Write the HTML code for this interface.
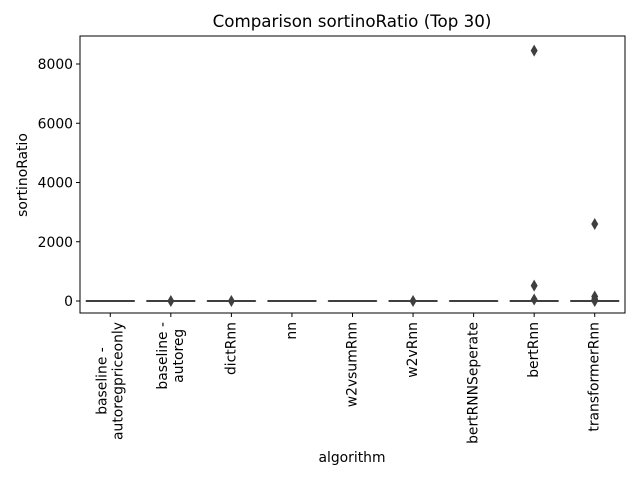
<!DOCTYPE html>
<html><head><meta charset="utf-8"><style>
body{margin:0;background:#fff}
svg{display:block;font-family:"DejaVu Sans","Liberation Sans",sans-serif}
</style></head><body>
<svg id="chart" width="640" height="480" viewBox="0 0 640 480">
<rect width="640" height="480" fill="#fff"/>
<text x="352" y="27" text-anchor="middle" font-size="16.7" fill="#000">Comparison sortinoRatio (Top 30)</text>
<g id="marks"></g>
<g id="yaxis"></g>
<g id="xaxis"></g>
<rect x="80" y="36" width="545" height="277" fill="none" stroke="#000" stroke-width="1"/>
<text x="352" y="462" text-anchor="middle" font-size="13.9">algorithm</text>
<text transform="translate(27,175) rotate(-90)" text-anchor="middle" font-size="13.9">sortinoRatio</text>
</svg>
<script>
const categories = ["baseline -\nautoregpriceonly","baseline -\nautoreg","dictRnn","nn","w2vsumRnn","w2vRnn","bertRNNSeperate","bertRnn","transformerRnn"];
const medians = [0,0,0,0,0,0,0,0,0];
const boxLow = [-2,-2,-2,-2,-2,-2,-2,-2,-2];
const boxHigh = [2,2,2,2,2,2,2,2,2];
const outliers = [[],[0],[0],[],[],[0],[],[8450,520,50],[2600,150,60,20,0]];
const yTicks = [0,2000,4000,6000,8000];

const NS="http://www.w3.org/2000/svg";
const L=80,R=625,T=36,B=313;
const y0=301, pxPerUnit=(301-64)/8000;
function yScale(v){return y0-v*pxPerUnit;}
const band=(R-L)/categories.length;
function xScale(i){return L+band*(i+0.5);}
function mk(tag,attrs,parent){const e=document.createElementNS(NS,tag);for(const k in attrs)e.setAttribute(k,attrs[k]);parent.appendChild(e);return e;}
const marks=document.getElementById('marks'),ya=document.getElementById('yaxis'),xa=document.getElementById('xaxis');

yTicks.forEach(v=>{
  const y=yScale(v);
  const t=mk('line',{x1:L-4,x2:L,y1:y,y2:y,stroke:'#000'},ya);
  
  
  const lb=mk('text',{x:L-7,y:y+5,'text-anchor':'end','font-size':'13.9'},ya);
  lb.textContent=v;
  
  
});

const bw=band*0.8;
categories.forEach((c,i)=>{
  const cx=xScale(i);
  const box=mk('rect',{x:cx-bw/2,y:yScale(boxHigh[i]),width:bw,height:Math.max(0.1,yScale(boxLow[i])-yScale(boxHigh[i])),fill:'#4c72b0',stroke:'#3f3f3f','stroke-width':1},marks);
  
  
  const med=mk('line',{x1:cx-bw/2,x2:cx+bw/2,y1:yScale(medians[i]),y2:yScale(medians[i]),stroke:'#3f3f3f','stroke-width':2},marks);
  
  
  outliers[i].forEach(v=>{
    const y=yScale(v);
    const d=mk('path',{d:`M${cx},${y-6}L${cx+3.5},${y}L${cx},${y+6}L${cx-3.5},${y}Z`,fill:'#3f3f3f'},marks);
    
    
  });
  const tk=mk('line',{x1:cx,x2:cx,y1:B,y2:B+4,stroke:'#000'},xa);
  
  
  const lines=c.split('\n');
  const g=mk('g',{},xa);
  
  
  const texts=lines.map((s,j)=>{
    const off=(j-(lines.length-1)/2)*16;
    const t=mk('text',{'text-anchor':'middle','dominant-baseline':'central','font-size':'13.9'},g);
    t.textContent=s;t._x=cx+off;return t;
  });
  const maxW=Math.max(...texts.map(t=>t.getComputedTextLength()));
  texts.forEach(t=>{const yc=B+9+maxW/2;t.setAttribute('transform',`translate(${t._x},${yc}) rotate(-90)`);});
});
</script>
</body></html>
